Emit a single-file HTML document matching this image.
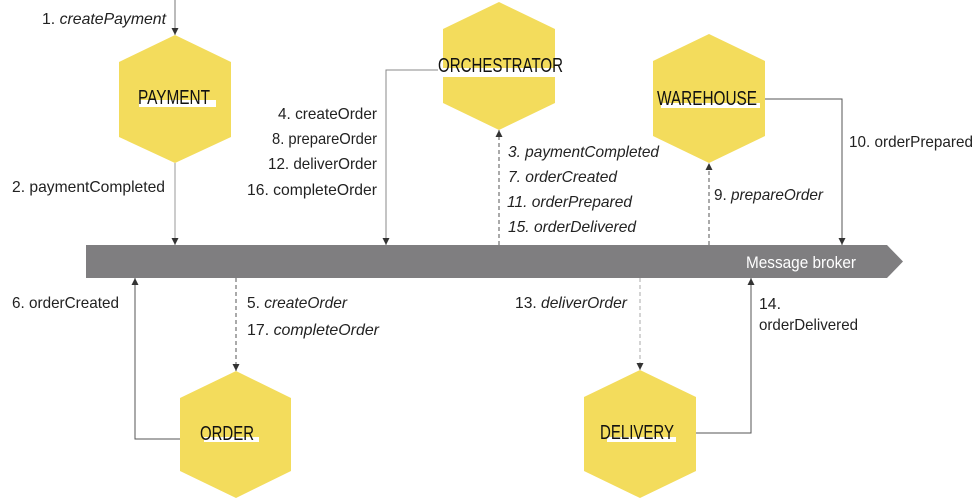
<!DOCTYPE html>
<html><head><meta charset="utf-8"><style>
html,body{margin:0;padding:0;background:#fff;width:977px;height:502px;overflow:hidden}
svg{display:block}
text{font-family:"Liberation Sans Narrow","Liberation Sans",sans-serif;fill:#222}
.l{font-size:16px}
.h{font-size:20px;fill:#111}
.i{font-style:italic}
</style></head><body>
<svg width="977" height="502" viewBox="0 0 977 502" xmlns="http://www.w3.org/2000/svg">
<defs>
<marker id="a" viewBox="0 0 8 8" refX="8" refY="4" markerWidth="7" markerHeight="7" markerUnits="userSpaceOnUse" orient="auto">
<path d="M0,0 L8,4 L0,8 z" fill="#333"/>
</marker>
</defs>

<!-- broker -->
<polygon points="86,245 887,245 903,261.5 887,278 86,278" fill="#7f7e80"/>
<text x="746" y="268" font-size="17" style="fill:#fff" textLength="110" lengthAdjust="spacingAndGlyphs">Message broker</text>

<!-- connectors -->
<line x1="175" y1="0" x2="175" y2="35" stroke="#777" stroke-width="1" marker-end="url(#a)"/>
<line x1="175" y1="163" x2="175" y2="245" stroke="#999" stroke-width="1" marker-end="url(#a)"/>
<polyline points="438,70 386,70 386,245" fill="none" stroke="#888" stroke-width="1" marker-end="url(#a)"/>
<line x1="499" y1="245" x2="499" y2="130" stroke="#555" stroke-width="1" stroke-dasharray="4,3" marker-end="url(#a)"/>
<line x1="709" y1="245" x2="709" y2="163" stroke="#555" stroke-width="1" stroke-dasharray="4,3" marker-end="url(#a)"/>
<polyline points="765,99 842,99 842,245" fill="none" stroke="#555" stroke-width="1" marker-end="url(#a)"/>
<polyline points="180,439 135,439 135,278" fill="none" stroke="#555" stroke-width="1" marker-end="url(#a)"/>
<line x1="236" y1="278" x2="236" y2="371" stroke="#555" stroke-width="1" stroke-dasharray="4,3" marker-end="url(#a)"/>
<line x1="640" y1="278" x2="640" y2="370" stroke="#aaa" stroke-width="1" stroke-dasharray="4,3" marker-end="url(#a)"/>
<polyline points="692,433 751,433 751,278" fill="none" stroke="#555" stroke-width="1" marker-end="url(#a)"/>

<!-- hexagons -->
<g fill="#f3dc5c">
<polygon points="175,35 231,62 231,137 175,163 119,137 119,62"/>
<polygon points="499,2 555,29 555,103 499,130 443,103 443,29"/>
<polygon points="709,34 765,61 765,136 709,163 653,136 653,61"/>
<polygon points="236,371 291,398 291,471 236,498 180,471 180,398"/>
<polygon points="640,370 696,397 696,471 640,498 584,471 584,397"/>
</g>
<g fill="#fff">
<rect x="139" y="100" width="77" height="7"/>
<rect x="438" y="68" width="125" height="9"/>
<rect x="661" y="103" width="99" height="5"/>
<rect x="204" y="437" width="55" height="5"/>
<rect x="607" y="437" width="69" height="5"/>
</g>
<text class="h" x="138" y="104" textLength="72" lengthAdjust="spacingAndGlyphs">PAYMENT</text>
<text class="h" x="438" y="72" textLength="125" lengthAdjust="spacingAndGlyphs">ORCHESTRATOR</text>
<text class="h" x="657" y="105" textLength="100" lengthAdjust="spacingAndGlyphs">WAREHOUSE</text>
<text class="h" x="200" y="440" textLength="54" lengthAdjust="spacingAndGlyphs">ORDER</text>
<text class="h" x="600" y="439" textLength="74" lengthAdjust="spacingAndGlyphs">DELIVERY</text>

<!-- labels -->
<text class="l" x="42" y="24" textLength="124" lengthAdjust="spacingAndGlyphs">1. <tspan class="i">createPayment</tspan></text>
<text class="l" x="12" y="192" textLength="153" lengthAdjust="spacingAndGlyphs">2. paymentCompleted</text>

<text class="l" x="278" y="119" textLength="99" lengthAdjust="spacingAndGlyphs">4. createOrder</text>
<text class="l" x="272" y="144" textLength="105" lengthAdjust="spacingAndGlyphs">8. prepareOrder</text>
<text class="l" x="268" y="169" textLength="109" lengthAdjust="spacingAndGlyphs">12. deliverOrder</text>
<text class="l" x="247" y="195" textLength="130" lengthAdjust="spacingAndGlyphs">16. completeOrder</text>

<text class="l i" x="508" y="157" textLength="151" lengthAdjust="spacingAndGlyphs">3. paymentCompleted</text>
<text class="l i" x="508" y="182" textLength="109" lengthAdjust="spacingAndGlyphs">7. orderCreated</text>
<text class="l i" x="507" y="207" textLength="125" lengthAdjust="spacingAndGlyphs">11. orderPrepared</text>
<text class="l i" x="508" y="232" textLength="128" lengthAdjust="spacingAndGlyphs">15. orderDelivered</text>

<text class="l" x="849" y="147" textLength="124" lengthAdjust="spacingAndGlyphs">10. orderPrepared</text>
<text class="l" x="714" y="200" textLength="109" lengthAdjust="spacingAndGlyphs">9. <tspan class="i">prepareOrder</tspan></text>

<text class="l" x="12" y="308" textLength="107" lengthAdjust="spacingAndGlyphs">6. orderCreated</text>
<text class="l" x="247" y="308" textLength="100" lengthAdjust="spacingAndGlyphs">5. <tspan class="i">createOrder</tspan></text>
<text class="l" x="247" y="335" textLength="132" lengthAdjust="spacingAndGlyphs">17. <tspan class="i">completeOrder</tspan></text>
<text class="l" x="515" y="308" textLength="112" lengthAdjust="spacingAndGlyphs">13. <tspan class="i">deliverOrder</tspan></text>
<text class="l" x="759" y="309" textLength="22" lengthAdjust="spacingAndGlyphs">14.</text>
<text class="l" x="759" y="330" textLength="99" lengthAdjust="spacingAndGlyphs">orderDelivered</text>
</svg>
</body></html>
